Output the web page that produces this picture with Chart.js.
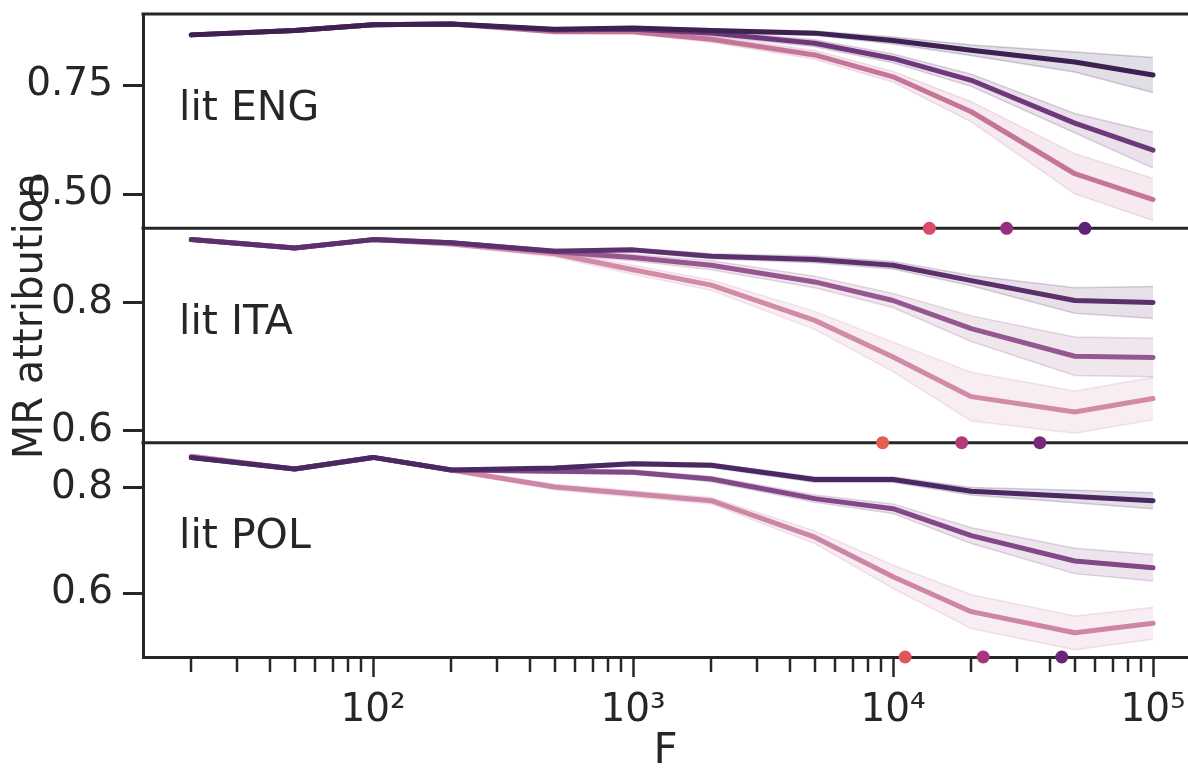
<!DOCTYPE html>
<html>
<head>
<meta charset="utf-8">
<title>MR attribution vs F</title>
<script src="https://cdn.jsdelivr.net/npm/chart.js@4.4.1/dist/chart.umd.min.js"></script>
<style>
  html, body { margin: 0; padding: 0; background: #fff; }
  #wrap { width: 1188px; height: 771px; }
</style>
</head>
<body>
<div id="wrap"><canvas id="chart" width="1188" height="771"></canvas></div>
<script>
// F values, shared by all three panels
const fValues = [20, 50, 100, 200, 500, 1000, 2000, 5000, 10000, 20000, 50000, 100000];

// lit ENG
const engDark  = [0.865, 0.875, 0.888, 0.890, 0.878, 0.881, 0.875, 0.869, 0.852, 0.830, 0.803, 0.773];
const engMid   = [0.865, 0.875, 0.888, 0.890, 0.876, 0.878, 0.869, 0.846, 0.811, 0.761, 0.663, 0.601];
const engLight = [0.865, 0.875, 0.888, 0.890, 0.872, 0.872, 0.855, 0.819, 0.769, 0.689, 0.547, 0.488];
const engDarkCi  = [0.002, 0.002, 0.002, 0.002, 0.003, 0.003, 0.004, 0.005, 0.008, 0.012, 0.023, 0.040];
const engMidCi   = [0.002, 0.002, 0.002, 0.002, 0.003, 0.004, 0.006, 0.008, 0.010, 0.014, 0.022, 0.041];
const engLightCi = [0.002, 0.002, 0.002, 0.003, 0.004, 0.005, 0.007, 0.010, 0.012, 0.023, 0.046, 0.048];
const engDots = [13790, 27350, 54700];

// lit ITA
const itaDark  = [0.898, 0.885, 0.898, 0.893, 0.880, 0.882, 0.872, 0.867, 0.858, 0.834, 0.803, 0.800];
const itaMid   = [0.898, 0.885, 0.898, 0.893, 0.879, 0.870, 0.858, 0.832, 0.803, 0.759, 0.716, 0.714];
const itaLight = [0.898, 0.885, 0.898, 0.891, 0.876, 0.851, 0.827, 0.772, 0.715, 0.653, 0.629, 0.650];
const itaDarkCi  = [0.002, 0.002, 0.002, 0.002, 0.003, 0.003, 0.004, 0.005, 0.006, 0.008, 0.020, 0.025];
const itaMidCi   = [0.002, 0.002, 0.002, 0.003, 0.004, 0.005, 0.007, 0.009, 0.011, 0.020, 0.030, 0.030];
const itaLightCi = [0.002, 0.002, 0.002, 0.003, 0.005, 0.007, 0.008, 0.014, 0.023, 0.038, 0.033, 0.033];
const itaDots = [9120, 18370, 36700];

// lit POL
const polDark  = [0.857, 0.835, 0.857, 0.833, 0.837, 0.845, 0.842, 0.815, 0.815, 0.793, 0.783, 0.775];
const polMid   = [0.857, 0.835, 0.857, 0.833, 0.831, 0.829, 0.816, 0.779, 0.760, 0.709, 0.661, 0.648];
const polLight = [0.859, 0.835, 0.857, 0.833, 0.801, 0.788, 0.775, 0.706, 0.631, 0.565, 0.525, 0.543];
const polDarkCi  = [0.003, 0.002, 0.002, 0.002, 0.003, 0.004, 0.004, 0.005, 0.005, 0.007, 0.012, 0.015];
const polMidCi   = [0.003, 0.002, 0.002, 0.003, 0.004, 0.004, 0.005, 0.007, 0.009, 0.015, 0.024, 0.025];
const polLightCi = [0.004, 0.003, 0.003, 0.003, 0.005, 0.006, 0.006, 0.012, 0.022, 0.032, 0.032, 0.030];
const polDots = [11130, 22220, 44570];

// y ticks per panel
const engTicks = [0.50, 0.75];
const itaTicks = [0.6, 0.8];
const polTicks = [0.6, 0.8];

// x tick labels (only the decades are labelled)
const xTickLabels = { 100: '10²', 1000: '10³', 10000: '10⁴', 100000: '10⁵' };

const axisColor = '#262626';
const font = 'DejaVu Sans';

const panels = [
  { id: 'yE', name: 'lit ENG', min: 0.422, max: 0.9128, ticks: engTicks, digits: 2,
    series: [engDark, engMid, engLight], ci: [engDarkCi, engMidCi, engLightCi],
    colors: ['#3c2152', '#6f387b', '#c47598'],
    dots: engDots, dotColors: ['#d94b6b', '#962f7f', '#5b2277'] },
  { id: 'yI', name: 'lit ITA', min: 0.5812, max: 0.9156, ticks: itaTicks, digits: 1,
    series: [itaDark, itaMid, itaLight], ci: [itaDarkCi, itaMidCi, itaLightCi],
    colors: ['#5b306d', '#965790', '#d18aa8'],
    dots: itaDots, dotColors: ['#e3604f', '#b43a78', '#76287b'] },
  { id: 'yP', name: 'lit POL', min: 0.4792, max: 0.8849, ticks: polTicks, digits: 1,
    series: [polDark, polMid, polLight], ci: [polDarkCi, polMidCi, polLightCi],
    colors: ['#4a2861', '#834887', '#cd86a5'],
    dots: polDots, dotColors: ['#df5560', '#a8357c', '#6b2479'] }
];

function rgba(hex, a) {
  const n = parseInt(hex.slice(1), 16);
  return `rgba(${n >> 16}, ${(n >> 8) & 255}, ${n & 255}, ${a})`;
}

function isDecade(v) {
  const l = Math.log10(v);
  return Math.abs(l - Math.round(l)) < 1e-9;
}

const datasets = [];
panels.forEach(p => {
  // markers sitting on the bottom spine of the panel
  datasets.push({
    yAxisID: p.id,
    data: p.dots.map(x => ({ x, y: p.min })),
    showLine: false,
    pointRadius: 6.5,
    pointHoverRadius: 6.5,
    pointBorderWidth: 0,
    pointBackgroundColor: p.dotColors,
    clip: false,
    order: 0
  });
  p.series.forEach((vals, s) => {
    const c = p.colors[s];
    const ci = p.ci[s];
    datasets.push({
      yAxisID: p.id,
      data: fValues.map((x, i) => ({ x, y: vals[i] - ci[i] })),
      borderColor: rgba(c, 0.22),
      borderWidth: 1.5,
      pointRadius: 0,
      fill: false,
      order: 10 + s
    });
    datasets.push({
      yAxisID: p.id,
      data: fValues.map((x, i) => ({ x, y: vals[i] + ci[i] })),
      borderColor: rgba(c, 0.22),
      borderWidth: 1.5,
      backgroundColor: rgba(c, 0.15),
      pointRadius: 0,
      fill: '-1',
      order: 10 + s
    });
    datasets.push({
      yAxisID: p.id,
      data: fValues.map((x, i) => ({ x, y: vals[i] })),
      borderColor: c,
      borderWidth: 5,
      borderCapStyle: 'round',
      borderJoinStyle: 'round',
      pointRadius: 0,
      fill: false,
      order: 1 + s
    });
  });
});

function yScale(p) {
  return {
    type: 'linear',
    position: 'left',
    stack: 'panels',
    stackWeight: 1,
    min: p.min,
    max: p.max,
    afterBuildTicks: s => { s.ticks = p.ticks.map(v => ({ value: v })); },
    afterFit: s => { s.width = 143; s.paddingTop = 0; s.paddingBottom = 0; },
    border: { color: axisColor, width: 3 },
    grid: { drawOnChartArea: false, tickLength: 20, tickWidth: 3, tickColor: axisColor },
    ticks: {
      padding: 10,
      color: axisColor,
      font: { family: font, size: 39 },
      callback: v => v.toFixed(p.digits)
    }
  };
}

// frame lines, minor x ticks and text annotations
const decorPlugin = {
  id: 'decor',
  beforeDatasetsDraw(chart) {
    const { ctx, chartArea } = chart;
    ctx.save();
    ctx.strokeStyle = axisColor;
    ctx.lineWidth = 3;
    panels.forEach(p => {
      const s = chart.scales[p.id];
      ctx.beginPath();
      ctx.moveTo(chartArea.left - 1.5, s.top);
      ctx.lineTo(chartArea.right, s.top);
      ctx.stroke();
    });
    const xs = chart.scales.x;
    ctx.lineWidth = 2.5;
    xs.ticks.forEach(t => {
      if (isDecade(t.value)) return;
      const px = Math.round(xs.getPixelForValue(t.value));
      ctx.beginPath();
      ctx.moveTo(px, xs.top);
      ctx.lineTo(px, xs.top + 15);
      ctx.stroke();
    });
    ctx.restore();
  },
  afterDraw(chart) {
    const { ctx, chartArea } = chart;
    ctx.save();
    ctx.fillStyle = axisColor;
    ctx.textBaseline = 'middle';
    ctx.textAlign = 'left';
    ctx.font = `41px "${font}"`;
    panels.forEach(p => {
      const s = chart.scales[p.id];
      ctx.fillText(p.name, chartArea.left + 36, s.top + 95);
    });
    const mid = chart.scales.yI;
    ctx.translate(32, mid.top + 88);
    ctx.rotate(-Math.PI / 2);
    ctx.textAlign = 'center';
    ctx.font = `40px "${font}"`;
    ctx.fillText('MR attribution', 0, 0);
    ctx.restore();
  }
};

Chart.defaults.font.family = font;

new Chart(document.getElementById('chart'), {
  type: 'line',
  data: { datasets },
  options: {
    responsive: false,
    animation: false,
    devicePixelRatio: 1,
    layout: { autoPadding: false, padding: { top: 14, right: 0, left: 0, bottom: 0 } },
    elements: { line: { tension: 0 } },
    plugins: { legend: { display: false }, tooltip: { enabled: false } },
    scales: {
      x: {
        type: 'logarithmic',
        position: 'bottom',
        min: 13.04,
        max: 136300,
        afterBuildTicks: s => {
          s.ticks = s.ticks.filter(t => {
            const m = t.value / Math.pow(10, Math.floor(Math.log10(t.value) + 1e-9));
            return Math.abs(m - Math.round(m)) < 1e-6;
          });
        },
        afterFit: s => { s.height = 114; s.paddingLeft = 0; s.paddingRight = 0; },
        border: { color: axisColor, width: 3 },
        grid: {
          drawOnChartArea: false,
          tickLength: 20,
          tickWidth: 2.5,
          tickColor: c => (c.tick && isDecade(c.tick.value)) ? axisColor : 'rgba(0,0,0,0)'
        },
        ticks: {
          autoSkip: false,
          maxRotation: 0,
          padding: 10,
          color: axisColor,
          font: { family: font, size: 39 },
          callback: v => xTickLabels[v] || ''
        },
        title: {
          display: true,
          text: 'F',
          color: axisColor,
          font: { family: font, size: 42, lineHeight: 0.9 },
          padding: { top: 0, bottom: 0 }
        }
      },
      // stacked panels: last defined ends up on top
      yP: yScale(panels[2]),
      yI: yScale(panels[1]),
      yE: yScale(panels[0])
    }
  },
  plugins: [decorPlugin]
});
</script>
</body>
</html>
